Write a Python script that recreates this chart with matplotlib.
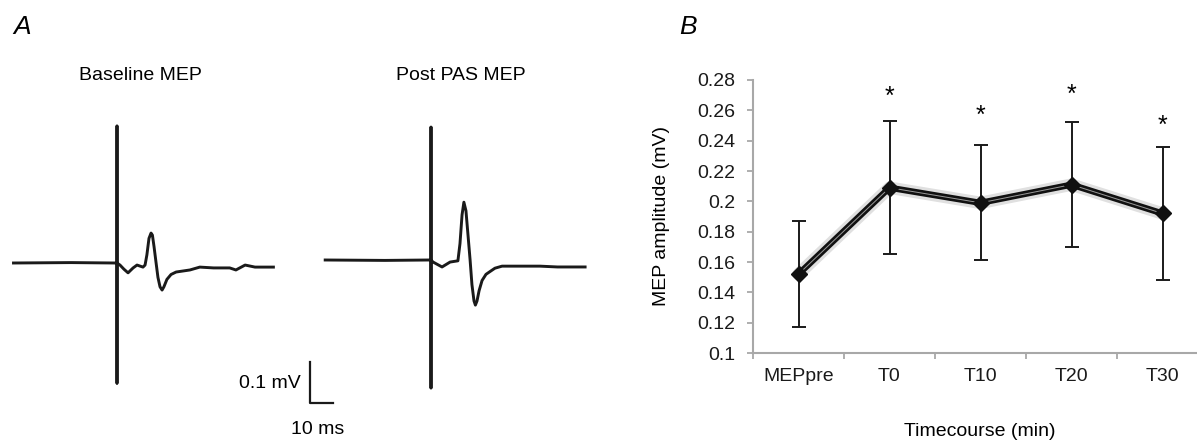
import matplotlib.pyplot as plt
import numpy as np

plt.rcParams["font.family"] = ["Liberation Sans", "DejaVu Sans"]

# =========================
# DATOS
# =========================

# panel A: MEP traces (time in ms from stimulus, amplitude in mV)
base_t = [-45, -20, -1, 0, 0, 0, 0, 1.3, 3, 4.8, 7, 8.7, 11.3, 12.2, 13, 13.9, 14.8,
          15.4, 16.1, 17, 17.8, 18.7, 19.6, 20.4, 21.7, 23.5, 25.7, 31.7, 36, 42, 49,
          51.7, 55.7, 60, 68]
base_v = [0, 0.001, 0, 0, 0.334, -0.293, 0, -0.005, -0.015, -0.024, -0.012, -0.005,
          -0.01, -0.005, 0.02, 0.06, 0.073, 0.068, 0.04, 0.0, -0.035, -0.058, -0.066,
          -0.058, -0.04, -0.028, -0.022, -0.017, -0.01, -0.012, -0.012, -0.017,
          -0.005, -0.01, -0.01]

post_t = [-46, -20, -1, 0, 0, 0, 0, 0.9, 4.8, 8.3, 11.7, 12.6, 13.5, 14.3, 15.2, 16.1,
          17, 17.8, 18.7, 19.3, 20, 20.9, 22.2, 23.9, 25.7, 27.8, 30.9, 40, 47.4, 55, 67]
post_v = [0, -0.001, 0, 0, 0.324, -0.312, 0, -0.005, -0.017, -0.005, -0.002, 0.04,
          0.11, 0.141, 0.12, 0.06, 0.0, -0.06, -0.1, -0.11, -0.1, -0.075, -0.05,
          -0.035, -0.028, -0.02, -0.015, -0.015, -0.015, -0.017, -0.017]

# panel B: MEP amplitude timecourse
categorias = ["MEPpre", "T0", "T10", "T20", "T30"]
media = [0.152, 0.209, 0.199, 0.211, 0.192]
error = [0.035, 0.044, 0.038, 0.041, 0.044]
estrellas = [None, 0.269, 0.2565, 0.2705, 0.25]

W, H = 1197, 441
fig = plt.figure(figsize=(W / 100, H / 100), dpi=100)


def px_axes(x0, x1, y0, y1):
    return fig.add_axes([x0 / W, 1 - y1 / H, (x1 - x0) / W, (y1 - y0) / H])


# escala de las trazas: px por ms y px por mV
px_ms = 2.3
px_mv = 410
fs = 14

# =========================
# PANEL A
# =========================

ax1 = px_axes(0, 300, 60, 441)
ax1.set_xlim((0 - 117) / px_ms, (300 - 117) / px_ms)
ax1.set_ylim((263 - 441) / px_mv, (263 - 60) / px_mv)
ax1.plot(base_t, base_v, color="#1a1a1a", lw=2.1, solid_joinstyle="round")
ax1.axis("off")

ax2 = px_axes(300, 640, 60, 441)
ax2.set_xlim((300 - 431) / px_ms, (640 - 431) / px_ms)
ax2.set_ylim((260 - 441) / px_mv, (260 - 60) / px_mv)
ax2.plot(post_t, post_v, color="#1a1a1a", lw=2.1, solid_joinstyle="round")

# barra de escala 10 ms / 0.1 mV
sx, sy = (310 - 431) / px_ms, (260 - 403) / px_mv
ax2.plot([sx, sx, sx + 10], [sy + 0.1, sy, sy], color="#1a1a1a", lw=1.6)
ax2.axis("off")

fig.text(140 / W, 1 - 75 / H, "Baseline MEP", ha="center", va="center", fontsize=fs)
fig.text(461 / W, 1 - 75 / H, "Post PAS MEP", ha="center", va="center", fontsize=fs)
fig.text(301 / W, 1 - 384 / H, "0.1 mV", ha="right", va="center", fontsize=fs)
fig.text(318 / W, 1 - 429 / H, "10 ms", ha="center", va="center", fontsize=fs)

fig.text(22 / W, 1 - 27 / H, "A", ha="center", va="center", fontsize=19, style="italic")
fig.text(688 / W, 1 - 27 / H, "B", ha="center", va="center", fontsize=19, style="italic")

# =========================
# PANEL B
# =========================

ax = px_axes(753, 1208, 80, 353)
x = np.arange(len(categorias))

# sombra
ax.plot(x, media, color="#000000", lw=9, alpha=0.12, zorder=2, solid_capstyle="round")
ax.errorbar(x, media, yerr=error, fmt="none", ecolor="#1a1a1a", elinewidth=1.4,
            capsize=4.8, capthick=1.4, zorder=3)
ax.plot(x, media, color="#111111", lw=4.5, zorder=4)
ax.plot(x, media, color="#9a9a9a", lw=0.7, zorder=5)
ax.plot(x, media, "D", color="#111111", markersize=8.5, zorder=6)

for xi, s in zip(x, estrellas):
    if s is not None:
        ax.text(xi, s, "*", ha="center", va="center", fontsize=18, zorder=7)

ax.set_xlim(-0.5, len(categorias) - 0.5)
ax.set_ylim(0.1, 0.28)

yt = np.round(np.arange(0.10, 0.281, 0.02), 2)
ax.set_yticks(yt)
ax.set_yticklabels([f"{v:g}" for v in yt])

ax.set_xticks(np.arange(-0.5, len(categorias), 1.0))
ax.set_xticklabels([])
ax.set_xticks(x, minor=True)
ax.set_xticklabels(categorias, minor=True)

for s in ["top", "right"]:
    ax.spines[s].set_visible(False)
for s in ["left", "bottom"]:
    ax.spines[s].set_color("#a8a8a8")
    ax.spines[s].set_linewidth(1.5)

ax.tick_params(axis="y", direction="out", length=4.5, width=1.3, color="#a8a8a8",
               labelsize=fs, pad=8, labelcolor="#1a1a1a")
ax.tick_params(axis="x", which="major", direction="out", length=4.5, width=1.3,
               color="#a8a8a8")
ax.tick_params(axis="x", which="minor", length=0, labelsize=fs, pad=11,
               labelcolor="#1a1a1a")

fig.text(662 / W, 1 - 216 / H, "MEP amplitude (mV)", rotation=90, ha="center",
         va="center", fontsize=fs)
fig.text(980 / W, 1 - 431 / H, "Timecourse (min)", ha="center", va="center", fontsize=fs)

fig.savefig("out.png", dpi=100)
